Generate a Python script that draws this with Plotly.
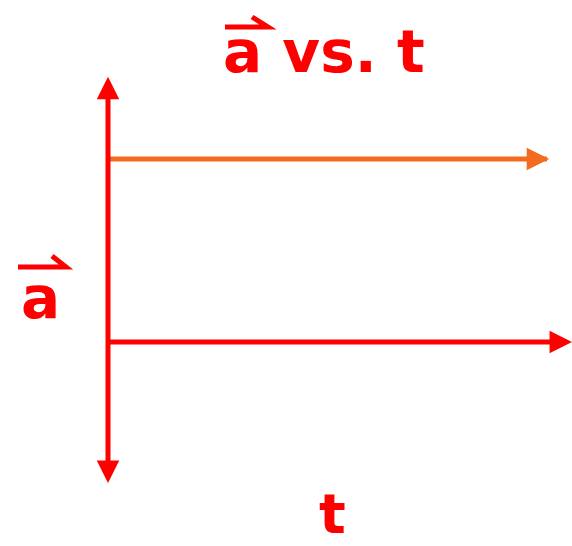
import plotly.graph_objects as go

# ---- data (constant acceleration vs time) ----
t_values = [0, 10]
a_values = [2, 2]
t_axis_end = 10.57
a_axis_top = 2.9
a_axis_bottom = -1.54

RED = "#FF0000"
ORANGE = "#F26B21"
W, H = 572, 546

# axis ranges chosen so the plot fills the page
x_range = [-2.460, 10.569]
y_range = [-2.2295, 3.7377]

def px(x):
    return x / W

def py(y):
    return 1 - y / H

fig = go.Figure()

# a = const line
fig.add_trace(go.Scatter(x=t_values, y=a_values, mode="lines",
                         line=dict(color=ORANGE, width=5), hoverinfo="skip"))
# horizontal t axis
fig.add_trace(go.Scatter(x=[0, t_axis_end - 0.2], y=[0, 0], mode="lines",
                         line=dict(color=RED, width=5), hoverinfo="skip"))
# vertical a axis
fig.add_trace(go.Scatter(x=[0, 0], y=[a_axis_bottom + 0.1, a_axis_top - 0.1], mode="lines",
                         line=dict(color=RED, width=5), hoverinfo="skip"))

def head(x, y, ax, ay, color):
    fig.add_annotation(x=x, y=y, ax=ax, ay=ay, xref="x", yref="y", axref="x", ayref="y",
                       showarrow=True, arrowhead=2, arrowsize=0.9, arrowwidth=5,
                       arrowcolor=color, text="")

head(t_values[-1] + 0.05, a_values[-1], t_values[-1] - 0.4, a_values[-1], ORANGE)
head(t_axis_end, 0, t_axis_end - 0.4, 0, RED)
head(0, a_axis_top, 0, a_axis_top - 0.2, RED)
head(0, a_axis_bottom, 0, a_axis_bottom + 0.2, RED)

FONT = "DejaVu Sans"

def label(x, y, text, size=58):
    fig.add_annotation(x=px(x), y=py(y), xref="paper", yref="paper", text=f"<b>{text}</b>",
                       showarrow=False, xanchor="center", yanchor="middle", borderpad=0,
                       font=dict(family=FONT, size=size, color=RED))

label(324, 52, "a vs. t")   # title
label(40, 298, "a")         # y label
label(332, 513, "t", 56)    # x label

# vector arrows over "a"
def vec(x0, x1, y, hx, hy):
    path = f"M {px(x0)} {py(y)} L {px(x1)} {py(y)} L {px(hx)} {py(hy)}"
    fig.add_shape(type="path", path=path, xref="paper", yref="paper",
                  line=dict(color=RED, width=5))

vec(225, 268, 27, 252, 17)
vec(18, 66, 267, 52, 256)

fig.update_layout(width=W, height=H, margin=dict(l=0, r=0, t=0, b=0),
                  paper_bgcolor="white", plot_bgcolor="white", showlegend=False,
                  xaxis=dict(range=x_range, visible=False, fixedrange=True),
                  yaxis=dict(range=y_range, visible=False, fixedrange=True))

fig.write_html("out.html", config={"displayModeBar": False},
               post_script="document.body.style.margin='0';")
